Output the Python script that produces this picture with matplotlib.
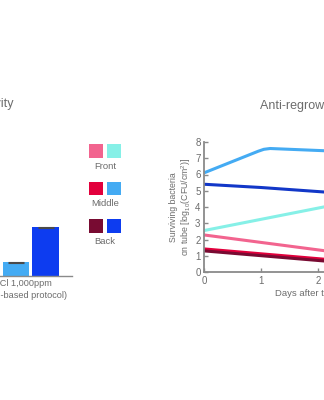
import numpy as np
import matplotlib.pyplot as plt
from matplotlib.patches import Rectangle

plt.rcParams['font.family'] = 'sans-serif'
plt.rcParams['font.sans-serif'] = ['Liberation Sans']
plt.rcParams['mathtext.fontset'] = 'custom'
plt.rcParams['mathtext.rm'] = 'Liberation Sans'
plt.rcParams['mathtext.it'] = 'Liberation Sans:italic'
plt.rcParams['mathtext.bf'] = 'Liberation Sans:bold'

textColor = '#6c6c6c'
axColor = '#8a8a8a'
W, H = 324., 400.

#%% >>>>> data >>>>>
positions = ['Front', 'Middle', 'Back']
darkColors = ['#f2648f', '#e2003c', '#780b32']
lightColors = ['#86f0e7', '#44abf3', '#0d3cf0']

# chlorine treated tubes (front / middle / back)
barLabel = 'NaOCl 1,000ppm\n(chlorine-based protocol)'
barValues = [0.45, 0.84, 3.0]
barErrors = [0.04, 0.04, 0.04]

# surviving bacteria over time, log10 CFU/cm2
daysFrontDark = [0, 2.2]
frontDark = [2.28, 1.27]
daysMiddleDark = [0, 2.2]
middleDark = [1.42, 0.76]
daysBackDark = [0, 2.2]
backDark = [1.30, 0.65]

daysFrontLight = [0, 2.2]
frontLight = [2.55, 4.07]
daysMiddleLight = [0, 0.5, 0.95, 1.05, 1.16, 2.2]
middleLight = [6.1, 6.8, 7.43, 7.55, 7.6, 7.45]
daysBackLight = [0, 1.0, 2.2]
backLight = [5.4, 5.2, 4.9]

dayTicks = [0, 1, 2, 3, 4]
logTicks = [0, 1, 2, 3, 4, 5, 6, 7, 8]
# <<<<< data <<<<<


def fig_box(x, y, w, h):
    # pixel box (top-left origin) -> figure fraction rect
    return [x/W, 1 - (y + h)/H, w/W, h/H]


fig = plt.figure(figsize=(W/100, H/100), dpi=100)
fig.patch.set_facecolor('white')

#---------- bar chart (left) -------------------
axb = fig.add_axes(fig_box(-58, 146, 130, 130))
x = np.arange(len(barValues)) - 1
axb.bar(x, barValues, width=0.9, color=lightColors, zorder=2)
axb.errorbar(x, barValues, yerr=barErrors, fmt='none', ecolor='#4a4a4a',
             elinewidth=0.8, capsize=5.5, capthick=0.8, zorder=3)
axb.set_xlim(-2.49, 1.886)
axb.set_ylim(0, 8)
for loc in ['left', 'top', 'right']:
    axb.spines[loc].set_visible(False)
axb.spines['bottom'].set_color(axColor)
axb.spines['bottom'].set_linewidth(1.0)
axb.set_yticks([])
axb.set_xticks([0], [barLabel])
axb.tick_params(axis='x', length=0, pad=2.5, labelsize=6.6,
                labelcolor=textColor)
for lab in axb.get_xticklabels():
    lab.set_linespacing(1.3)

fig.text(13/W, 1 - 104/H, 'Bactericidal activity', ha='right',
         va='center', fontsize=9, color=textColor)

#---------- legend swatches -------------------
sq = 13.7
rowsY = [144, 181.7, 219]
for i, pos in enumerate(positions):
    fig.add_artist(Rectangle(fig_box(89, rowsY[i], sq, sq)[:2], sq/W, sq/H,
                             transform=fig.transFigure,
                             facecolor=darkColors[i], edgecolor='none'))
    fig.add_artist(Rectangle(fig_box(107, rowsY[i], sq, sq)[:2], sq/W, sq/H,
                             transform=fig.transFigure,
                             facecolor=lightColors[i], edgecolor='none'))
    fig.text(105/W, 1 - (rowsY[i] + sq + 8.5)/H, pos, ha='center',
             va='center', fontsize=6.8, color=textColor)

#---------- regrowth curves (right) -------------------
ax = fig.add_axes(fig_box(204, 142, 228, 130))
lw = 2.2
ax.plot(daysMiddleLight, middleLight, color=lightColors[1], lw=lw,
        solid_capstyle='butt')
ax.plot(daysBackLight, backLight, color='#1237c8', lw=lw,
        solid_capstyle='butt')
ax.plot(daysFrontLight, frontLight, color=lightColors[0], lw=lw,
        solid_capstyle='butt')
ax.plot(daysFrontDark, frontDark, color=darkColors[0], lw=lw,
        solid_capstyle='butt')
ax.plot(daysMiddleDark, middleDark, color=darkColors[1], lw=lw,
        solid_capstyle='butt')
ax.plot(daysBackDark, backDark, color=darkColors[2], lw=lw,
        solid_capstyle='butt')

ax.set_xlim(0, 4)
ax.set_ylim(0, 8)
ax.set_xticks(dayTicks)
ax.set_yticks(logTicks)
ax.spines['top'].set_visible(False)
ax.spines['right'].set_visible(False)
for loc in ['left', 'bottom']:
    ax.spines[loc].set_color(axColor)
    ax.spines[loc].set_linewidth(1.3)
ax.tick_params('both', direction='in', length=3, width=1.0, color=axColor,
               labelsize=7, labelcolor=textColor)
ax.tick_params('y', pad=2.5)
ax.tick_params('x', pad=3)

ax.set_xlabel('Days after treatment', fontsize=6.8, color=textColor,
              labelpad=2)
ax.set_ylabel('Surviving bacteria\non tube [log$_{10}$(CFU/cm$^2$)]',
              fontsize=6.3, color=textColor, labelpad=1.5, linespacing=1.15)
ax.set_title('Anti-regrowth activity', fontsize=9, color=textColor, pad=24)

fig.savefig('out.png', dpi=100)
